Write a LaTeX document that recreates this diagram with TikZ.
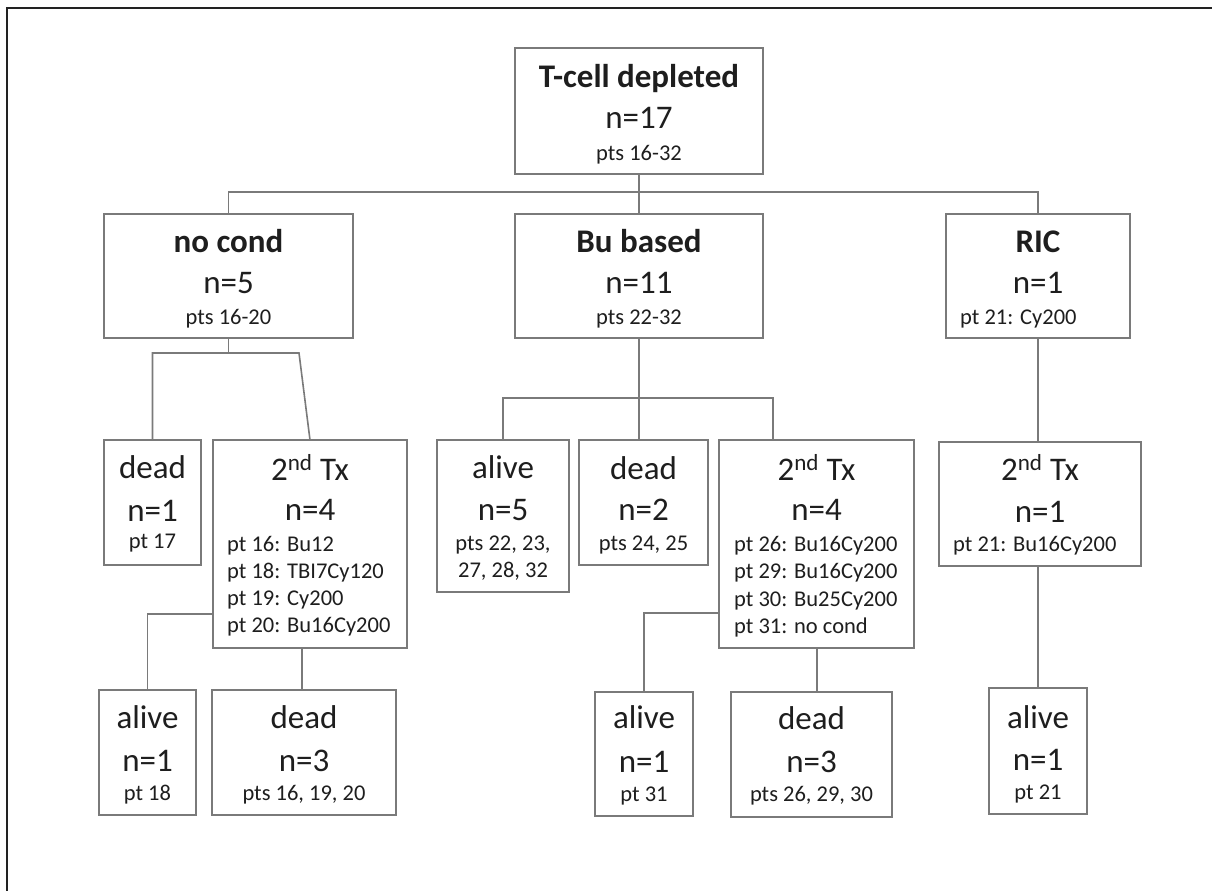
\documentclass[tikz,border=0pt]{standalone}
\usepackage{fontspec}
\setmainfont{Carlito}
\usetikzlibrary{calc}
\definecolor{boxgray}{HTML}{7A7A7A}
\definecolor{txtcol}{HTML}{1E1E1E}
\definecolor{framecol}{HTML}{222222}
\tikzset{
  box/.style={draw=boxgray, line width=1.6pt, inner sep=0pt, outer sep=0pt},
  conn/.style={draw=boxgray, line width=1.6pt},
  big/.style={font=\fontsize{33}{40}\selectfont, text=txtcol, inner sep=0pt, anchor=base},
  small/.style={font=\fontsize{22.5}{27}\selectfont, text=txtcol, inner sep=0pt, anchor=base},
  smallw/.style={small, anchor=base west},
  framestyle/.style={draw=framecol, line width=2pt}
}
\begin{document}
\begin{tikzpicture}[x=1pt,y=-1pt]
\useasboundingbox (0,0) rectangle (1212,891);
\fill[white] (0,0) rectangle (1212,891);
\draw[framestyle] (1212,8) -- (7,8) -- (7,891);

% ---------- boxes ----------
\node[box, minimum width=248pt, minimum height=126pt] (top) at (639,111) {};
\node[box, minimum width=249pt, minimum height=124pt] (nocond) at (228.5,276) {};
\node[box, minimum width=248pt, minimum height=124pt] (bu) at (639,276) {};
\node[box, minimum width=184pt, minimum height=124pt] (ric) at (1038,276) {};

\node[box, minimum width=97pt, minimum height=125pt] (dead1) at (152.5,502.5) {};
\node[box, minimum width=194pt, minimum height=208pt] (tx1) at (310,544) {};
\node[box, minimum width=132pt, minimum height=152pt] (alive2) at (503,516) {};
\node[box, minimum width=129pt, minimum height=125pt] (dead2) at (643.5,502.5) {};
\node[box, minimum width=195pt, minimum height=208pt] (tx2) at (816.5,544) {};
\node[box, minimum width=202pt, minimum height=124pt] (tx3) at (1040,504) {};

\node[box, minimum width=97pt, minimum height=125pt] (alive3) at (147.5,752.5) {};
\node[box, minimum width=184pt, minimum height=125pt] (dead3) at (304,752.5) {};
\node[box, minimum width=98pt, minimum height=124pt] (alive4) at (644,754) {};
\node[box, minimum width=161pt, minimum height=125pt] (dead4) at (811.5,754.5) {};
\node[box, minimum width=98pt, minimum height=126pt] (alive5) at (1038,751) {};

% ---------- texts ----------
\node[big] (top-a) at (639,88) {\bfseries T-cell depleted};
\node[big] (top-b) at (639,128) {n=17};
\node[small] (top-c) at (639,160) {pts 16-32};

\node[big] (nocond-a) at (228.5,252) {\bfseries no cond};
\node[big] (nocond-b) at (228.5,293) {n=5};
\node[small] (nocond-c) at (228.5,324) {pts 16-20};

\node[big] (bu-a) at (639,252) {\bfseries Bu based};
\node[big] (bu-b) at (639,293) {n=11};
\node[small] (bu-c) at (639,324) {pts 22-32};

\node[big] (ric-a) at (1038,252) {\bfseries RIC};
\node[big] (ric-b) at (1038,293) {n=1};
\node[smallw] (ric-c) at (960,324) {pt 21: Cy200};

\node[big] (dead1-a) at (152.5,478) {dead};
\node[big] (dead1-b) at (152.5,521) {n=1};
\node[small] (dead1-c) at (152.5,548) {pt 17};

\node[big] (tx1-a) at (310,480) {2\textsuperscript{nd} Tx};
\node[big] (tx1-b) at (310,520) {n=4};
\node[smallw] (tx1-c) at (227,551) {pt 16: Bu12};
\node[smallw] (tx1-d) at (227,578) {pt 18: TBI7Cy120};
\node[smallw] (tx1-e) at (227,605) {pt 19: Cy200};
\node[smallw] (tx1-f) at (227,632) {pt 20: Bu16Cy200};

\node[big] (alive2-a) at (503,478) {alive};
\node[big] (alive2-b) at (503,520) {n=5};
\node[small] (alive2-c) at (503,550) {pts 22, 23,};
\node[small] (alive2-d) at (503,577) {27, 28, 32};

\node[big] (dead2-a) at (643.5,479) {dead};
\node[big] (dead2-b) at (643.5,520) {n=2};
\node[small] (dead2-c) at (643.5,550) {pts 24, 25};

\node[big] (tx2-a) at (816.5,480) {2\textsuperscript{nd} Tx};
\node[big] (tx2-b) at (816.5,520) {n=4};
\node[smallw] (tx2-c) at (734,551) {pt 26: Bu16Cy200};
\node[smallw] (tx2-d) at (734,578) {pt 29: Bu16Cy200};
\node[smallw] (tx2-e) at (734,606) {pt 30: Bu25Cy200};
\node[smallw] (tx2-f) at (734,633) {pt 31: no cond};

\node[big] (tx3-a) at (1040,480) {2\textsuperscript{nd} Tx};
\node[big] (tx3-b) at (1040,522) {n=1};
\node[smallw] (tx3-c) at (953,551) {pt 21: Bu16Cy200};

\node[big] (alive3-a) at (147.5,728) {alive};
\node[big] (alive3-b) at (147.5,771) {n=1};
\node[small] (alive3-c) at (147.5,800) {pt 18};

\node[big] (dead3-a) at (304,728) {dead};
\node[big] (dead3-b) at (304,771) {n=3};
\node[small] (dead3-c) at (304,800) {pts 16, 19, 20};

\node[big] (alive4-a) at (644,728) {alive};
\node[big] (alive4-b) at (644,772) {n=1};
\node[small] (alive4-c) at (644,801) {pt 31};

\node[big] (dead4-a) at (811.5,729) {dead};
\node[big] (dead4-b) at (811.5,772) {n=3};
\node[small] (dead4-c) at (811.5,801) {pts 26, 29, 30};

\node[big] (alive5-a) at (1038,728) {alive};
\node[big] (alive5-b) at (1038,770) {n=1};
\node[small] (alive5-c) at (1038,799) {pt 21};

% ---------- connectors ----------
\coordinate (topj) at ($(top.south)+(0,18)$);
\draw[conn] (top.south) -- (topj);
\draw[conn] (nocond.north) |- (topj) -| (ric.north);
\draw[conn] (topj) -- (bu.north);

\coordinate (ncj) at ($(nocond.south)+(0,15)$);
\coordinate (ncr) at (299,353);
\draw[conn] (nocond.south) -- (ncj);
\draw[conn] (dead1.north) |- (ncj) -- (ncr) -- (tx1.north);

\coordinate (buj) at (639,398);
\coordinate (tx2in) at (773,440);
\draw[conn] (bu.south) -- (bu.south |- dead2.north);
\draw[conn] (alive2.north) |- (buj) -| (tx2in);

\draw[conn] (ric.south) -- (ric.south |- tx3.north);

\coordinate (tx1l) at (213,614);
\draw[conn] (tx1l) -| (alive3.north);
\coordinate (tx1b) at (302,648);
\draw[conn] (tx1b) -- (tx1b |- dead3.north);

\coordinate (tx2l) at (719,613);
\draw[conn] (tx2l) -| (alive4.north);
\coordinate (tx2b) at (817,648);
\draw[conn] (tx2b) -- (tx2b |- dead4.north);

\draw[conn] (alive5.north |- tx3.south) -- (alive5.north);
\end{tikzpicture}
\end{document}
